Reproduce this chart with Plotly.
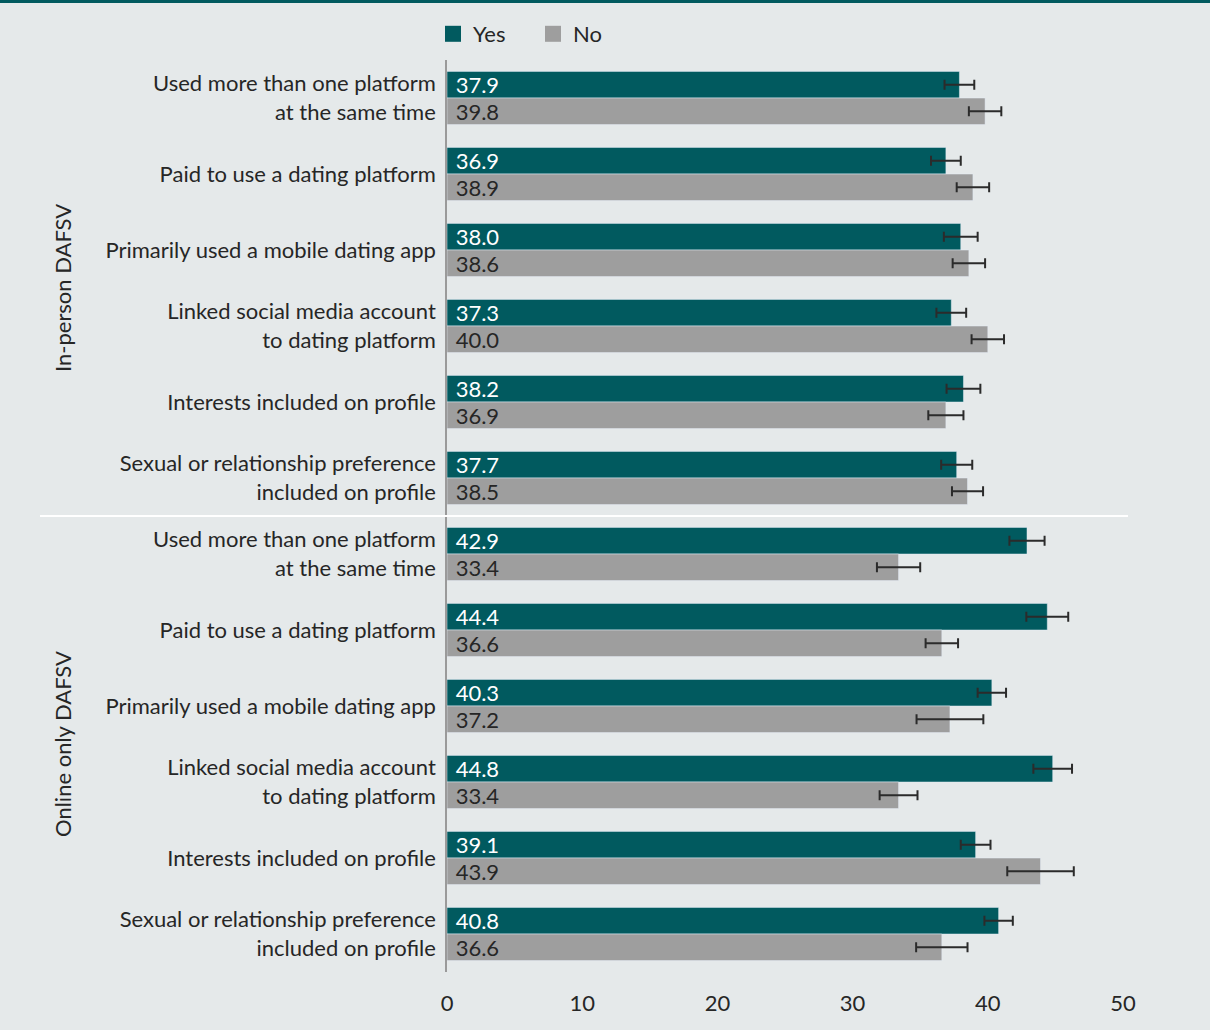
import plotly.graph_objects as go

labels = [
    "Used more than one platform<br>at the same time",
    "Paid to use a dating platform",
    "Primarily used a mobile dating app",
    "Linked social media account<br>to dating platform",
    "Interests included on profile",
    "Sexual or relationship preference<br>included on profile",
]
groups = ["In-person DAFSV", "Online only DAFSV"]

yes_vals = [37.9, 36.9, 38.0, 37.3, 38.2, 37.7, 42.9, 44.4, 40.3, 44.8, 39.1, 40.8]
yes_err = [1.1, 1.1, 1.25, 1.1, 1.25, 1.15, 1.3, 1.55, 1.05, 1.43, 1.1, 1.05]
no_vals = [39.8, 38.9, 38.6, 40.0, 36.9, 38.5, 33.4, 36.6, 37.2, 33.4, 43.9, 36.6]
no_err = [1.2, 1.2, 1.2, 1.2, 1.3, 1.15, 1.6, 1.2, 2.47, 1.4, 2.46, 1.9]

tick_labels = labels + labels
ypos = list(range(len(tick_labels)))

FONT = "Lato"
FS = 22
TEAL = "#015a5f"
GREY = "#9e9e9e"
BG = "#e5e9ea"
INK = "#262626"

W, H = 1210, 1030
L, R, T, B = 447, 87, 60, 58
pw, ph = W - L - R, H - T - B

fig = go.Figure()
series = [("Yes", yes_vals, yes_err, TEAL, "white"), ("No", no_vals, no_err, GREY, INK)]
for name, vals, errs, col, tcol in series:
    fig.add_trace(go.Bar(
        name=name, y=ypos, x=vals, orientation="h", marker_color=col,
        error_x=dict(type="data", array=errs, color="#2b2b2b", thickness=2, width=5),
        text=[f"\u00a0{v:.1f}" for v in vals], textposition="inside",
        insidetextanchor="start", constraintext="none",
        insidetextfont=dict(color=tcol, size=FS, family=FONT),
        showlegend=False, legendgroup=name,
    ))
# legend entries with larger square swatches
for name, vals, errs, col, tcol in series:
    fig.add_trace(go.Scatter(
        name=name, x=[None], y=[None], mode="markers",
        marker=dict(symbol="square", size=17, color=col),
        showlegend=True, legendgroup=name, hoverinfo="skip",
    ))

shapes = [
    dict(type="line", xref="paper", yref="y", x0=(40 - L) / pw, x1=(1128 - L) / pw,
         y0=5.5, y1=5.5, line=dict(color="white", width=2)),
    dict(type="line", xref="paper", yref="paper", x0=-L / pw, x1=(W - L) / pw,
         y0=1 + (T - 1.5) / ph, y1=1 + (T - 1.5) / ph, line=dict(color=TEAL, width=3)),
]

annotations = []
for i, g in enumerate(groups):
    annotations.append(dict(
        text=g, xref="paper", yref="y", x=(62 - L) / pw, y=2.5 + 6 * i,
        textangle=-90, showarrow=False, xanchor="center", yanchor="middle",
        font=dict(size=FS, color=INK, family=FONT),
    ))

fig.update_layout(
    width=W, height=H,
    margin=dict(l=L, r=R, t=T, b=B),
    paper_bgcolor=BG, plot_bgcolor=BG,
    barmode="group", bargap=0.30, bargroupgap=0,
    font=dict(family=FONT, size=FS, color=INK),
    legend=dict(orientation="h", x=-14 / pw, xanchor="left", y=1 + 47 / ph, yanchor="top",
                font=dict(size=FS, family=FONT, color=INK), traceorder="normal",
                bgcolor="rgba(0,0,0,0)", itemwidth=30, itemsizing="trace",
                entrywidth=55, entrywidthmode="pixels"),
    xaxis=dict(range=[0, 50], tickvals=[0, 10, 20, 30, 40, 50], showgrid=False,
               zeroline=False, showline=False, ticks="", ticklabelstandoff=16,
               tickfont=dict(size=FS, family=FONT, color=INK)),
    yaxis=dict(range=[11.5, -0.5], tickvals=ypos, ticktext=tick_labels, showgrid=False,
               zeroline=False, showline=True, linecolor="#9a9a9a", linewidth=1.5,
               ticks="", ticklabelstandoff=5,
               tickfont=dict(size=FS, family=FONT, color=INK)),
    shapes=shapes, annotations=annotations,
    showlegend=True,
)

fig.write_html("out.html")
